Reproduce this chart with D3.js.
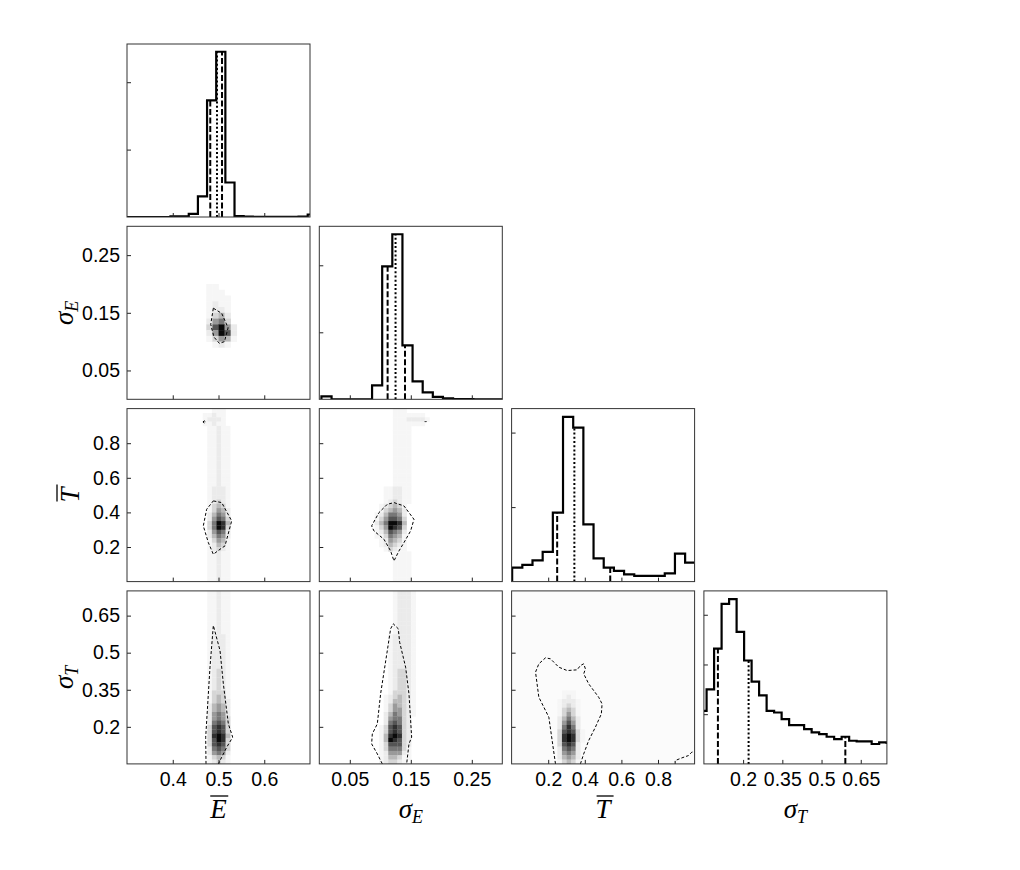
<!DOCTYPE html>
<html>
<head>
<meta charset="utf-8">
<script src="https://cdn.jsdelivr.net/npm/d3@7"></script>
<style>
  body { margin: 0; background: #fff; }
  .tick text { font-family: "Liberation Sans", Arial, sans-serif; font-size: 19.5px; fill: #000; }
  .tick line { stroke: #222; }
</style>
</head>
<body>
<script>
"use strict";

// parameter ranges and ticks
var ranges = [[0.3, 0.7], [0, 0.3], [0, 1], [0.05, 0.75]];
var tickVals = [[0.4, 0.5, 0.6], [0.05, 0.15, 0.25], [0.2, 0.4, 0.6, 0.8], [0.2, 0.35, 0.5, 0.65]];
var tickLabels = [["0.4", "0.5", "0.6"], ["0.05", "0.15", "0.25"], ["0.2", "0.4", "0.6", "0.8"], ["0.2", "0.35", "0.5", "0.65"]];

// 1d histograms (bin start, bin width, counts)
var histStart = [0.295, 0.0035, 0.003, 0.0316];
var histStep = [0.02, 0.0166, 0.0556, 0.0287];
var countsE = [0, 0, 0, 0, 0, 8, 10, 45, 306, 1731, 2452, 512, 15, 5, 4, 4, 4, 4, 4, 6, 37];
var countsSE = [45, 0, 0, 0, 0, 209, 1985, 2463, 806, 269, 104, 37, 15, 4, 2, 0, 0, 0];
var countsT = [188, 224, 286, 399, 926, 2211, 2067, 769, 313, 188, 144, 98, 77, 77, 77, 111, 376, 255];
var countsST = [1066, 1500, 2320, 3220, 3314, 2654, 2080, 1654, 1380, 1066, 1034, 900, 780, 780, 700, 634, 600, 546, 500, 546, 466, 454, 454, 400, 434, 420];
var histMax = [2567, 2582, 2322, 3480];
var histTicks = [[1000, 2000], [1000, 2000], [1000, 2000], [1000, 2000, 3000]];

// 16/50/84 quantiles
var quantE = [0.482, 0.4967, 0.5077];
var quantSE = [0.112, 0.125, 0.1405];
var quantT = [0.249, 0.343, 0.539];
var quantST = [0.1036, 0.221, 0.591];

// 2d histograms, darkness 0-9, rows from top to bottom
var gridA = { col: 0, row: 1, x0: 0.46, dx: 0.01333, yTop: 0.2, dy: 0.01, cells: [
  "0110000",
  "0111000",
  "0111100",
  "0121100",
  "0122100",
  "0134200",
  "0256300",
  "0379520",
  "0259720",
  "0135410",
  "0012100",
  "0000000"] };
var gridB = { col: 0, row: 2, x0: 0.4655, dx: 0.01, yTop: 1.0, dy: 0.025, cells: [
  "0011100", "1121100", "1222100", "1121100", "0112110", "0112110", "0112110", "0112110",
  "0112110", "0112110", "0112110", "0112110", "0112110", "0112110", "0112110", "0112110",
  "0112110", "0112110", "0122210", "0122210", "0122210", "0123210", "0134310", "0135420",
  "0246520", "0257630", "0369840", "0369830", "0257620", "0246520", "0135410", "0124310",
  "0123210", "0112110", "0112110", "0112110", "0112110", "0112110", "0112110", "0112110"] };
var gridC = { col: 0, row: 3, x0: 0.4655, dx: 0.01, yTop: 0.75, dy: 0.0175, cells: [
  "0112110", "0112110", "0112110", "0112110", "0112110", "0112110", "0112110", "0112110",
  "0112110", "0112110", "0122210", "0122210", "0122210", "0122210", "0122210", "0122210",
  "0122210", "0122210", "0123210", "0123210", "0123210", "0123210", "0123210", "0133310",
  "0134310", "0134320", "0245420", "0245420", "0256520", "0256530", "0267630", "0378730",
  "0378730", "0389840", "0379830", "0378730", "0267630", "0256520", "0134310", "0123210"] };
var gridD = { col: 1, row: 2, x0: 0.0905, dx: 0.0075, yTop: 1.0, dy: 0.025, cells: [
  "000011100000", "000011111110", "000011122221", "000011111110", "000011110000", "000011110000",
  "000011110000", "000011110000", "000011110000", "000011110000", "000011110000", "000011110000",
  "000011110000", "000011110000", "000011110000", "000011110000", "000011110000", "000011110000",
  "001122110000", "001122110000", "001122110000", "001232110000", "012343100000", "013454200000",
  "124665200000", "135776300000", "246998400000", "135987300000", "124765200000", "113654100000",
  "012543100000", "012432100000", "001321100000", "000011110000", "000011110000", "000011110000",
  "000011110000", "000011110000", "000011110000", "000011110000"] };
var gridE = { col: 1, row: 3, x0: 0.0905, dx: 0.0075, yTop: 0.75, dy: 0.0175, cells: [
  "0000122210", "0000122210", "0000122210", "0000122210", "0000122210", "0000122210",
  "0000122210", "0000122210", "0000122210", "0000122210", "0001222210", "0001222210",
  "0001222210", "0001222210", "0001222210", "0001222210", "0001222210", "0001222210",
  "0001233210", "0001233210", "0001233210", "0001233210", "0001233210", "0001333210",
  "0012343210", "0012443210", "0013543210", "0013553210", "0024653210", "0025663200",
  "0026763200", "0137873200", "0137873200", "0148983200", "0149873200", "0137773200",
  "0136663100", "0125552100", "0124431100", "0123321000"] };
var gridF = { col: 2, row: 3, x0: 0.2, dx: 0.025, yTop: 0.4, dy: 0.0175, cells: [
  "0000000000", "0000000000", "0000000000", "0001110000", "0001210000",
  "0012221000", "0012321000", "0013431000", "0013531000", "0024642000",
  "0025752000", "0026862000", "0037873100", "0038983100", "0038983100",
  "0037872000", "0026762000", "0025652000", "0024542000", "0013431000"] };

// 68% contours [x, y] in data units
var contourA = [[0.4887, 0.158], [0.507, 0.149], [0.521, 0.124], [0.513, 0.1], [0.502, 0.097], [0.49, 0.108], [0.483, 0.13], [0.4887, 0.158]];
var contourB = [[0.4887, 0.4665], [0.507, 0.4566], [0.5288, 0.351], [0.5142, 0.2064], [0.5033, 0.1869], [0.4887, 0.158], [0.4778, 0.2254], [0.4668, 0.322], [0.4741, 0.418], [0.4887, 0.4665]];
var contourB2 = [[0.466, 0.923], [0.469, 0.929], [0.472, 0.923], [0.469, 0.917], [0.466, 0.923]];
var contourC = [[0.4727, 0.05], [0.472, 0.158], [0.4778, 0.3334], [0.4814, 0.4414], [0.4887, 0.61], [0.5033, 0.5087], [0.5106, 0.374], [0.5215, 0.212], [0.531, 0.158], [0.518, 0.1176], [0.507, 0.077], [0.4997, 0.05]];
var contourD = [[0.1224, 0.4566], [0.1388, 0.4374], [0.1552, 0.36], [0.1497, 0.293], [0.1388, 0.2254], [0.1306, 0.1773], [0.1224, 0.1195], [0.1169, 0.1773], [0.106, 0.2447], [0.0896, 0.293], [0.0858, 0.322], [0.0978, 0.3988], [0.1115, 0.447], [0.1224, 0.4566]];
var contourD2 = [[0.1735, 0.925], [0.1743, 0.928], [0.1751, 0.925], [0.1743, 0.922], [0.1735, 0.925]];
var contourE = [[0.1033, 0.05], [0.0951, 0.0905], [0.0858, 0.131], [0.0869, 0.1715], [0.0951, 0.212], [0.1005, 0.3334], [0.1115, 0.5087], [0.1169, 0.5966], [0.1213, 0.6168], [0.1295, 0.5966], [0.1317, 0.5426], [0.1415, 0.4414], [0.147, 0.3334], [0.1514, 0.158], [0.147, 0.131], [0.1432, 0.05]];
var contourF = [[0.2398, 0.05], [0.2216, 0.1445], [0.2035, 0.239], [0.1488, 0.32], [0.1308, 0.4212], [0.1488, 0.4549], [0.1853, 0.4792], [0.2125, 0.4751], [0.2579, 0.4414], [0.3035, 0.4277], [0.358, 0.4306], [0.376, 0.448], [0.394, 0.4549], [0.4033, 0.4346], [0.394, 0.4144], [0.4213, 0.3739], [0.4757, 0.32], [0.4943, 0.2929], [0.4905, 0.2524], [0.4578, 0.1984], [0.4213, 0.1445], [0.394, 0.0905], [0.376, 0.05]];
var contourF2 = [[0.8937, 0.05], [0.8937, 0.0634], [0.9302, 0.0743], [0.9662, 0.0836], [0.9847, 0.0974], [1.0, 0.1]];

var width = 1020, height = 870;
var marginL = 127, marginT = 44, pw = 183, ph = 173, stepX = 192.3, stepY = 182.3;
var greys = d3.scaleLinear().domain([0, 1, 2, 3, 4, 5, 6, 7, 8, 9])
  .range(["#ffffff", "#f6f6f6", "#ebebeb", "#d6d6d6", "#b9b9b9", "#9a9a9a", "#787878", "#555555", "#303030", "#0a0a0a"]);

var svg = d3.select("body").append("svg").attr("width", width).attr("height", height);

function xScale(i) {
  return d3.scaleLinear().domain(ranges[i]).range([marginL + i * stepX, marginL + i * stepX + pw]);
}
function yScale(j) {
  return d3.scaleLinear().domain(ranges[j]).range([marginT + j * stepY + ph, marginT + j * stepY]);
}

function panel(i, j) {
  var id = "clip" + i + "_" + j;
  if (svg.select("#" + id).empty()) {
    svg.append("clipPath").attr("id", id).append("rect")
      .attr("x", marginL + i * stepX).attr("y", marginT + j * stepY).attr("width", pw).attr("height", ph);
  }
  return svg.append("g").attr("clip-path", "url(#" + id + ")");
}

function drawFrame(i, j, y, yTicks) {
  var x = xScale(i);
  var gx = svg.append("g").attr("transform", "translate(0," + (marginT + j * stepY + ph) + ")")
    .call(d3.axisBottom(x).tickValues(tickVals[i]).tickSize(-4).tickPadding(8)
      .tickFormat(function(d, k) { return j == 3 ? tickLabels[i][k] : ""; }));
  gx.select(".domain").remove();
  var gy = svg.append("g").attr("transform", "translate(" + (marginL + i * stepX) + ",0)")
    .call(d3.axisLeft(y).tickValues(yTicks).tickSize(-4).tickPadding(7)
      .tickFormat(function(d, k) { return (i == 0 && j > 0) ? tickLabels[j][k] : ""; }));
  gy.select(".domain").remove();
  svg.append("rect")
    .attr("x", marginL + i * stepX).attr("y", marginT + j * stepY)
    .attr("width", pw).attr("height", ph)
    .attr("fill", "none").attr("stroke", "#333").attr("stroke-width", 1);
}

function drawHist(i, counts, quants) {
  var x = xScale(i);
  var y = d3.scaleLinear().domain([0, histMax[i]]).range([marginT + i * stepY + ph, marginT + i * stepY]);
  var g = panel(i, i);
  var pts = [[histStart[i], 0]];
  counts.forEach(function(c, k) {
    pts.push([histStart[i] + k * histStep[i], c]);
    pts.push([histStart[i] + (k + 1) * histStep[i], c]);
  });
  pts.push([histStart[i] + counts.length * histStep[i], 0]);
  g.append("path")
    .attr("d", d3.line().x(function(d) { return x(d[0]); }).y(function(d) { return y(d[1]); })(pts))
    .attr("fill", "none").attr("stroke", "#000").attr("stroke-width", 2.2);
  quants.forEach(function(q, k) {
    var bin = Math.floor((q - histStart[i]) / histStep[i]);
    g.append("line")
      .attr("x1", x(q)).attr("x2", x(q))
      .attr("y1", y(0)).attr("y2", y(counts[bin]))
      .attr("stroke", "#000").attr("stroke-width", 2)
      .attr("stroke-dasharray", k == 1 ? "2,2.2" : "6,2.5");
  });
  drawFrame(i, i, y, histTicks[i]);
}

function drawGrid(grid) {
  var x = xScale(grid.col), y = yScale(grid.row);
  var g = panel(grid.col, grid.row);
  grid.cells.forEach(function(rowStr, r) {
    for (var c = 0; c < rowStr.length; c++) {
      var v = +rowStr[c];
      if (v == 0) continue;
      var xa = grid.x0 + c * grid.dx, yb = grid.yTop - (r + 1) * grid.dy;
      g.append("rect")
        .attr("x", x(xa)).attr("y", y(yb + grid.dy))
        .attr("width", x(xa + grid.dx) - x(xa) + 0.3)
        .attr("height", y(yb) - y(yb + grid.dy) + 0.3)
        .attr("fill", greys(v));
    }
  });
  return g;
}

function drawContour(g, i, j, pts) {
  var x = xScale(i), y = yScale(j);
  g.append("path")
    .attr("d", d3.line().x(function(d) { return x(d[0]); }).y(function(d) { return y(d[1]); })(pts))
    .attr("fill", "none").attr("stroke", "#000").attr("stroke-width", 1)
    .attr("stroke-dasharray", "3,2");
}

// panel F has a faint background everywhere
var bgF = panel(2, 3);
bgF.append("rect").attr("x", xScale(2)(0)).attr("y", yScale(3)(0.75))
  .attr("width", pw).attr("height", ph).attr("fill", "#fbfbfb");

var gA = drawGrid(gridA); drawContour(gA, 0, 1, contourA);
var gB = drawGrid(gridB); drawContour(gB, 0, 2, contourB); drawContour(gB, 0, 2, contourB2);
var gC = drawGrid(gridC); drawContour(gC, 0, 3, contourC);
var gD = drawGrid(gridD); drawContour(gD, 1, 2, contourD); drawContour(gD, 1, 2, contourD2);
var gE = drawGrid(gridE); drawContour(gE, 1, 3, contourE);
var gF = drawGrid(gridF); drawContour(gF, 2, 3, contourF); drawContour(gF, 2, 3, contourF2);

[[0, 1], [0, 2], [0, 3], [1, 2], [1, 3], [2, 3]].forEach(function(p) {
  drawFrame(p[0], p[1], yScale(p[1]), tickVals[p[1]]);
});

drawHist(0, countsE, quantE);
drawHist(1, countsSE, quantSE);
drawHist(2, countsT, quantT);
drawHist(3, countsST, quantST);

// axis labels
function mathLabel(parent, base, sub, bar) {
  var t = parent.append("text")
    .attr("font-family", "'Liberation Serif', 'DejaVu Serif', serif")
    .attr("font-style", "italic").attr("font-size", 27).attr("text-anchor", "middle");
  t.append("tspan").text(base);
  if (sub) t.append("tspan").attr("font-size", 18).attr("dy", 5).text(sub);
  if (bar) {
    var bb = t.node().getBBox();
    parent.append("line")
      .attr("x1", bb.x + 1).attr("x2", bb.x + bb.width + 1)
      .attr("y1", bb.y + 2).attr("y2", bb.y + 2)
      .attr("stroke", "#000").attr("stroke-width", 1.3);
  }
}
var labels = [["E", null, true], ["\u03c3", "E", false], ["T", null, true], ["\u03c3", "T", false]];
labels.forEach(function(l, i) {
  var cx = marginL + i * stepX + pw / 2;
  var gx = svg.append("g").attr("transform", "translate(" + cx + ",818)");
  mathLabel(gx, l[0], l[1], l[2]);
  if (i > 0) {
    var cy = marginT + i * stepY + ph / 2;
    var bx = l[2] ? 79 : 73;
    var gy = svg.append("g").attr("transform", "translate(" + bx + "," + cy + ") rotate(-90)");
    mathLabel(gy, l[0], l[1], l[2]);
  }
});
</script>
</body>
</html>
